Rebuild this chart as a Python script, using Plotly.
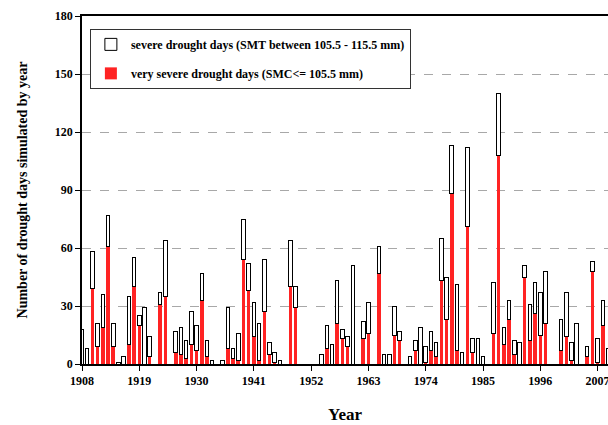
import plotly.graph_objects as go

years = list(range(1908, 2010))

# total drought days per year (severe + very severe)
total_days = [
    18, 8, 58, 21, 36, 77, 21, 1, 4, 35,      # 1908-1917
    55, 25, 29, 14, 0, 37, 64, 0, 17, 19,     # 1918-1927
    12, 27, 20, 47, 12, 2, 0, 2, 29, 8,       # 1928-1937
    16, 75, 52, 32, 21, 54, 11, 6, 2, 0,      # 1938-1947
    64, 40, 0, 0, 0, 0, 5, 20, 10, 43,        # 1948-1957
    18, 14, 51, 0, 22, 32, 0, 61, 5, 5,       # 1958-1967
    30, 17, 0, 4, 12, 19, 9, 17, 11, 65,      # 1968-1977
    45, 113, 41, 6, 112, 13, 13, 4, 0, 42,    # 1978-1987
    140, 19, 33, 12, 11, 51, 31, 42, 37, 48,  # 1988-1997
    0, 0, 23, 37, 11, 21, 0, 9, 53, 13,       # 1998-2007
    33, 8,                                    # 2008-2009
]

# very severe drought days (SMC <= 105.5 mm)
very_severe = [
    0, 0, 39, 9, 19, 61, 9, 0, 0, 10,
    40, 20, 0, 4, 0, 31, 35, 0, 6, 5,
    3, 10, 7, 33, 4, 0, 0, 0, 8, 3,
    2, 54, 38, 14, 2, 27, 5, 1, 0, 0,
    40, 29, 0, 0, 0, 0, 0, 8, 0, 21,
    13, 9, 0, 0, 13, 16, 0, 47, 0, 0,
    15, 12, 0, 0, 7, 0, 1, 7, 4, 43,
    23, 88, 7, 0, 71, 6, 0, 0, 0, 16,
    108, 10, 23, 5, 0, 45, 12, 26, 15, 21,
    0, 0, 7, 14, 2, 0, 0, 4, 48, 1,
    20, 0,
]

# severe drought days (SMT between 105.5 - 115.5 mm), stacked on top
severe = [t - v for t, v in zip(total_days, very_severe)]

x_ticks = list(range(1908, 2008, 11))
y_ticks = [0, 30, 60, 90, 120, 150, 180]

serif = "Liberation Serif"

fig = go.Figure()
fig.add_trace(go.Bar(
    x=years, y=very_severe,
    name="very severe drought days (SMC<= 105.5 mm)",
    marker=dict(color="#ff2323", line=dict(width=0)),
    legendgroup="b", legendrank=2,
))
fig.add_trace(go.Bar(
    x=years, y=severe,
    name="severe drought days (SMT between 105.5 - 115.5 mm)",
    marker=dict(color="white", line=dict(color="black", width=1)),
    legendgroup="a", legendrank=1,
))

fig.update_layout(
    width=608, height=425,
    margin=dict(l=82, r=0, t=16, b=61),
    paper_bgcolor="white",
    plot_bgcolor="white",
    barmode="stack",
    bargap=0.32,
    font=dict(family=serif, size=12, color="black"),
    showlegend=True,
    legend=dict(
        x=0.015, y=0.963, xanchor="left", yanchor="top",
        traceorder="grouped",
        tracegroupgap=10,
        bordercolor="#333333", borderwidth=1,
        bgcolor="white",
        font=dict(family=serif, size=12, weight="bold", color="black"),
        itemwidth=30,
    ),
    xaxis=dict(
        range=[1908, 2009],
        automargin=False,
        tickmode="array", tickvals=x_ticks,
        ticklabeloverflow="allow",
        ticks="outside", ticklen=5, tickwidth=1, tickcolor="black",
        showline=True, linecolor="black", linewidth=1.5, mirror=True,
        showgrid=False, zeroline=False,
        tickfont=dict(family=serif, size=12, weight="bold"),
        title=dict(text="Year", font=dict(family=serif, size=17, weight="bold"), standoff=21),
    ),
    yaxis=dict(
        range=[0, 180],
        automargin=False,
        tickmode="array", tickvals=y_ticks,
        ticks="outside", ticklen=5, tickwidth=1, tickcolor="black",
        showline=True, linecolor="black", linewidth=1.5,
        showgrid=True, gridcolor="#a8a8a8", gridwidth=1, griddash="dash",
        zeroline=False,
        tickfont=dict(family=serif, size=12, weight="bold"),
        title=dict(text="Number of drought days simulated by year",
                   font=dict(family=serif, size=14, weight="bold"), standoff=24),
    ),
)

fig.write_html(
    "out.html",
    config={"displayModeBar": False},
    post_script="document.body.style.margin='0';document.body.style.overflow='hidden';",
)
